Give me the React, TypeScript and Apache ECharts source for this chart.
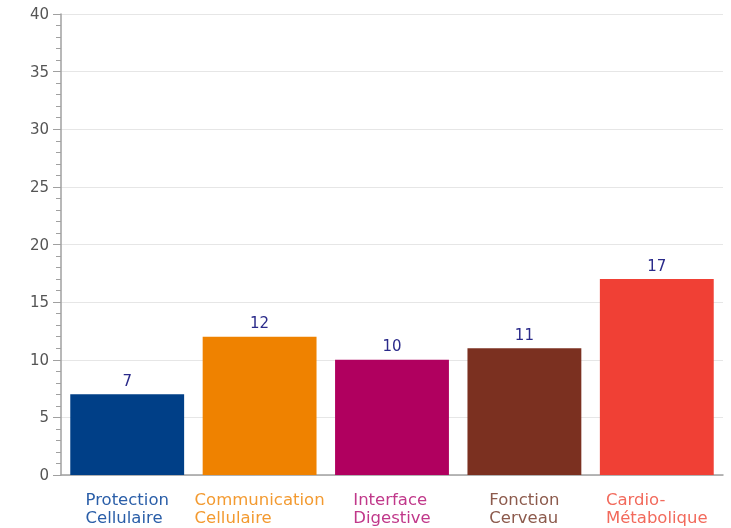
import React, { useEffect, useRef } from "react";
import * as echarts from "echarts";

const categories = ["Protection\nCellulaire", "Communication\nCellulaire", "Interface\nDigestive", "Fonction\nCerveau", "Cardio-\nMétabolique"];
const values = [7, 12, 10, 11, 17];
const barColors = ["#003f87", "#ef8200", "#b0005f", "#7b3020", "#f04035"];
const labelColors = ["#2a5ea8", "#f39a30", "#c0388a", "#8c5a4c", "#f26a5c"];

export default function App() {
  const ref = useRef<HTMLDivElement>(null);
  useEffect(() => {
    const chart = echarts.init(ref.current!, null, { renderer: "svg" });
    const rich: Record<string, any> = {};
    labelColors.forEach((c, i) => {
      rich["c" + i] = { color: c, fontSize: 16.5, align: "left", lineHeight: 18, fontFamily: "DejaVu Sans" };
    });
    chart.setOption({
      animation: false,
      grid: { left: 61, top: 14, right: 8, bottom: 53, containLabel: false },
      xAxis: {
        type: "category",
        data: categories,
        axisLine: { lineStyle: { color: "#a0a0a0", width: 1.5 } },
        axisTick: { show: false },
        axisLabel: {
          interval: 0,
          margin: 15,
          formatter: (v: string, i: number) =>
            v.split("\n").map((l) => `{c${i}|${l}}`).join("\n"),
          rich,
        },
      },
      yAxis: {
        type: "value",
        min: 0,
        max: 40,
        interval: 5,
        axisLine: { show: true, lineStyle: { color: "#a0a0a0", width: 1.5 } },
        axisTick: { show: true, length: 8, lineStyle: { color: "#a0a0a0" } },
        minorTick: { show: true, splitNumber: 5, length: 5, lineStyle: { color: "#a0a0a0" } },
        splitLine: { lineStyle: { color: "#e6e6e6" } },
        axisLabel: { color: "#555", fontSize: 15, fontFamily: "DejaVu Sans", margin: 12 },
      },
      series: [
        {
          type: "bar",
          barCategoryGap: "14%",
          data: values.map((v, i) => ({ value: v, itemStyle: { color: barColors[i] } })),
          label: {
            show: true,
            position: "top",
            distance: 6,
            color: "#2a2a8a",
            fontSize: 15,
            fontFamily: "DejaVu Sans",
          },
        },
      ],
    });
    return () => chart.dispose();
  }, []);
  return <div ref={ref} style={{ position: "fixed", left: 0, top: 0, width: 731, height: 528 }} />;
}
